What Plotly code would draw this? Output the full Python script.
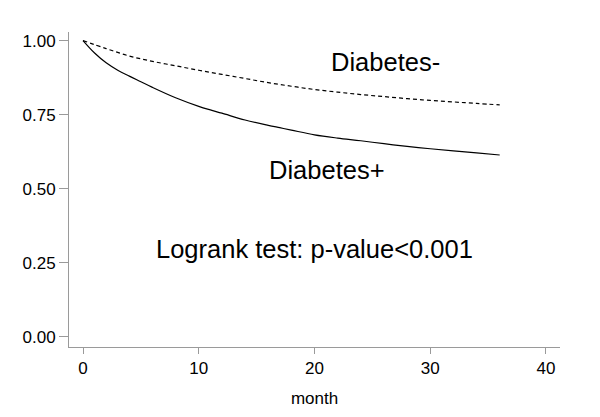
import plotly.graph_objects as go

# Data
months_pos = [0, 1, 2, 3, 4, 5, 6, 8, 10, 11, 12, 14, 16, 17, 18, 20, 22, 24, 26, 28, 30, 32, 34, 36]
surv_pos = [1.0, 0.958, 0.925, 0.900, 0.880, 0.861, 0.842, 0.807, 0.778, 0.766, 0.755, 0.732,
            0.714, 0.706, 0.698, 0.682, 0.671, 0.662, 0.652, 0.643, 0.635, 0.628, 0.621, 0.614]

months_neg = [0, 2, 4, 6, 8, 10, 12, 14, 16, 18, 20, 22, 24, 26, 28, 30, 32, 34, 36]
surv_neg = [1.0, 0.973, 0.948, 0.930, 0.915, 0.900, 0.886, 0.872, 0.858, 0.846, 0.835, 0.826,
            0.818, 0.811, 0.804, 0.798, 0.793, 0.788, 0.783]

x_ticks = [0, 10, 20, 30, 40]
y_ticks = [0.0, 0.25, 0.5, 0.75, 1.0]
y_tick_labels = ["0.00", "0.25", "0.50", "0.75", "1.00"]

FONT = "Arial, Liberation Sans, sans-serif"
AXIS_COLOR = "#9a9a9a"

fig = go.Figure()
fig.add_trace(go.Scatter(x=months_neg, y=surv_neg, mode="lines",
                         line=dict(color="black", width=1.2, dash="4px,3px", shape="spline"),
                         showlegend=False, hoverinfo="skip"))
fig.add_trace(go.Scatter(x=months_pos, y=surv_pos, mode="lines",
                         line=dict(color="black", width=1.2, shape="spline"),
                         showlegend=False, hoverinfo="skip"))

fig.add_annotation(x=26.1, y=0.928, text="Diabetes-", showarrow=False,
                   font=dict(family=FONT, size=25.5, color="black"))
fig.add_annotation(x=21.1, y=0.564, text="Diabetes+", showarrow=False,
                   font=dict(family=FONT, size=25.5, color="black"))
fig.add_annotation(x=20.0, y=0.297, text="Logrank test: p-value<0.001", showarrow=False,
                   font=dict(family=FONT, size=25.5, color="black"))

fig.update_layout(
    width=600, height=417,
    margin=dict(l=69, r=40, t=32, b=70),
    paper_bgcolor="white", plot_bgcolor="white",
    font=dict(family=FONT, size=17, color="black"),
)
fig.update_xaxes(range=[-1.21, 41.21], tickvals=x_ticks, ticks="outside", ticklen=6,
                 tickcolor=AXIS_COLOR, showline=True, linecolor=AXIS_COLOR, linewidth=1,
                 showgrid=False, zeroline=False,
                 title=dict(text="month", font=dict(size=17), standoff=14),
                 tickfont=dict(size=17))
fig.update_yaxes(range=[-0.034, 1.029], tickvals=y_ticks, ticktext=y_tick_labels,
                 ticks="outside", ticklen=9, tickcolor=AXIS_COLOR, showline=True,
                 linecolor=AXIS_COLOR, linewidth=1, showgrid=False, zeroline=False,
                 tickfont=dict(size=17))

fig.write_html("out.html")
